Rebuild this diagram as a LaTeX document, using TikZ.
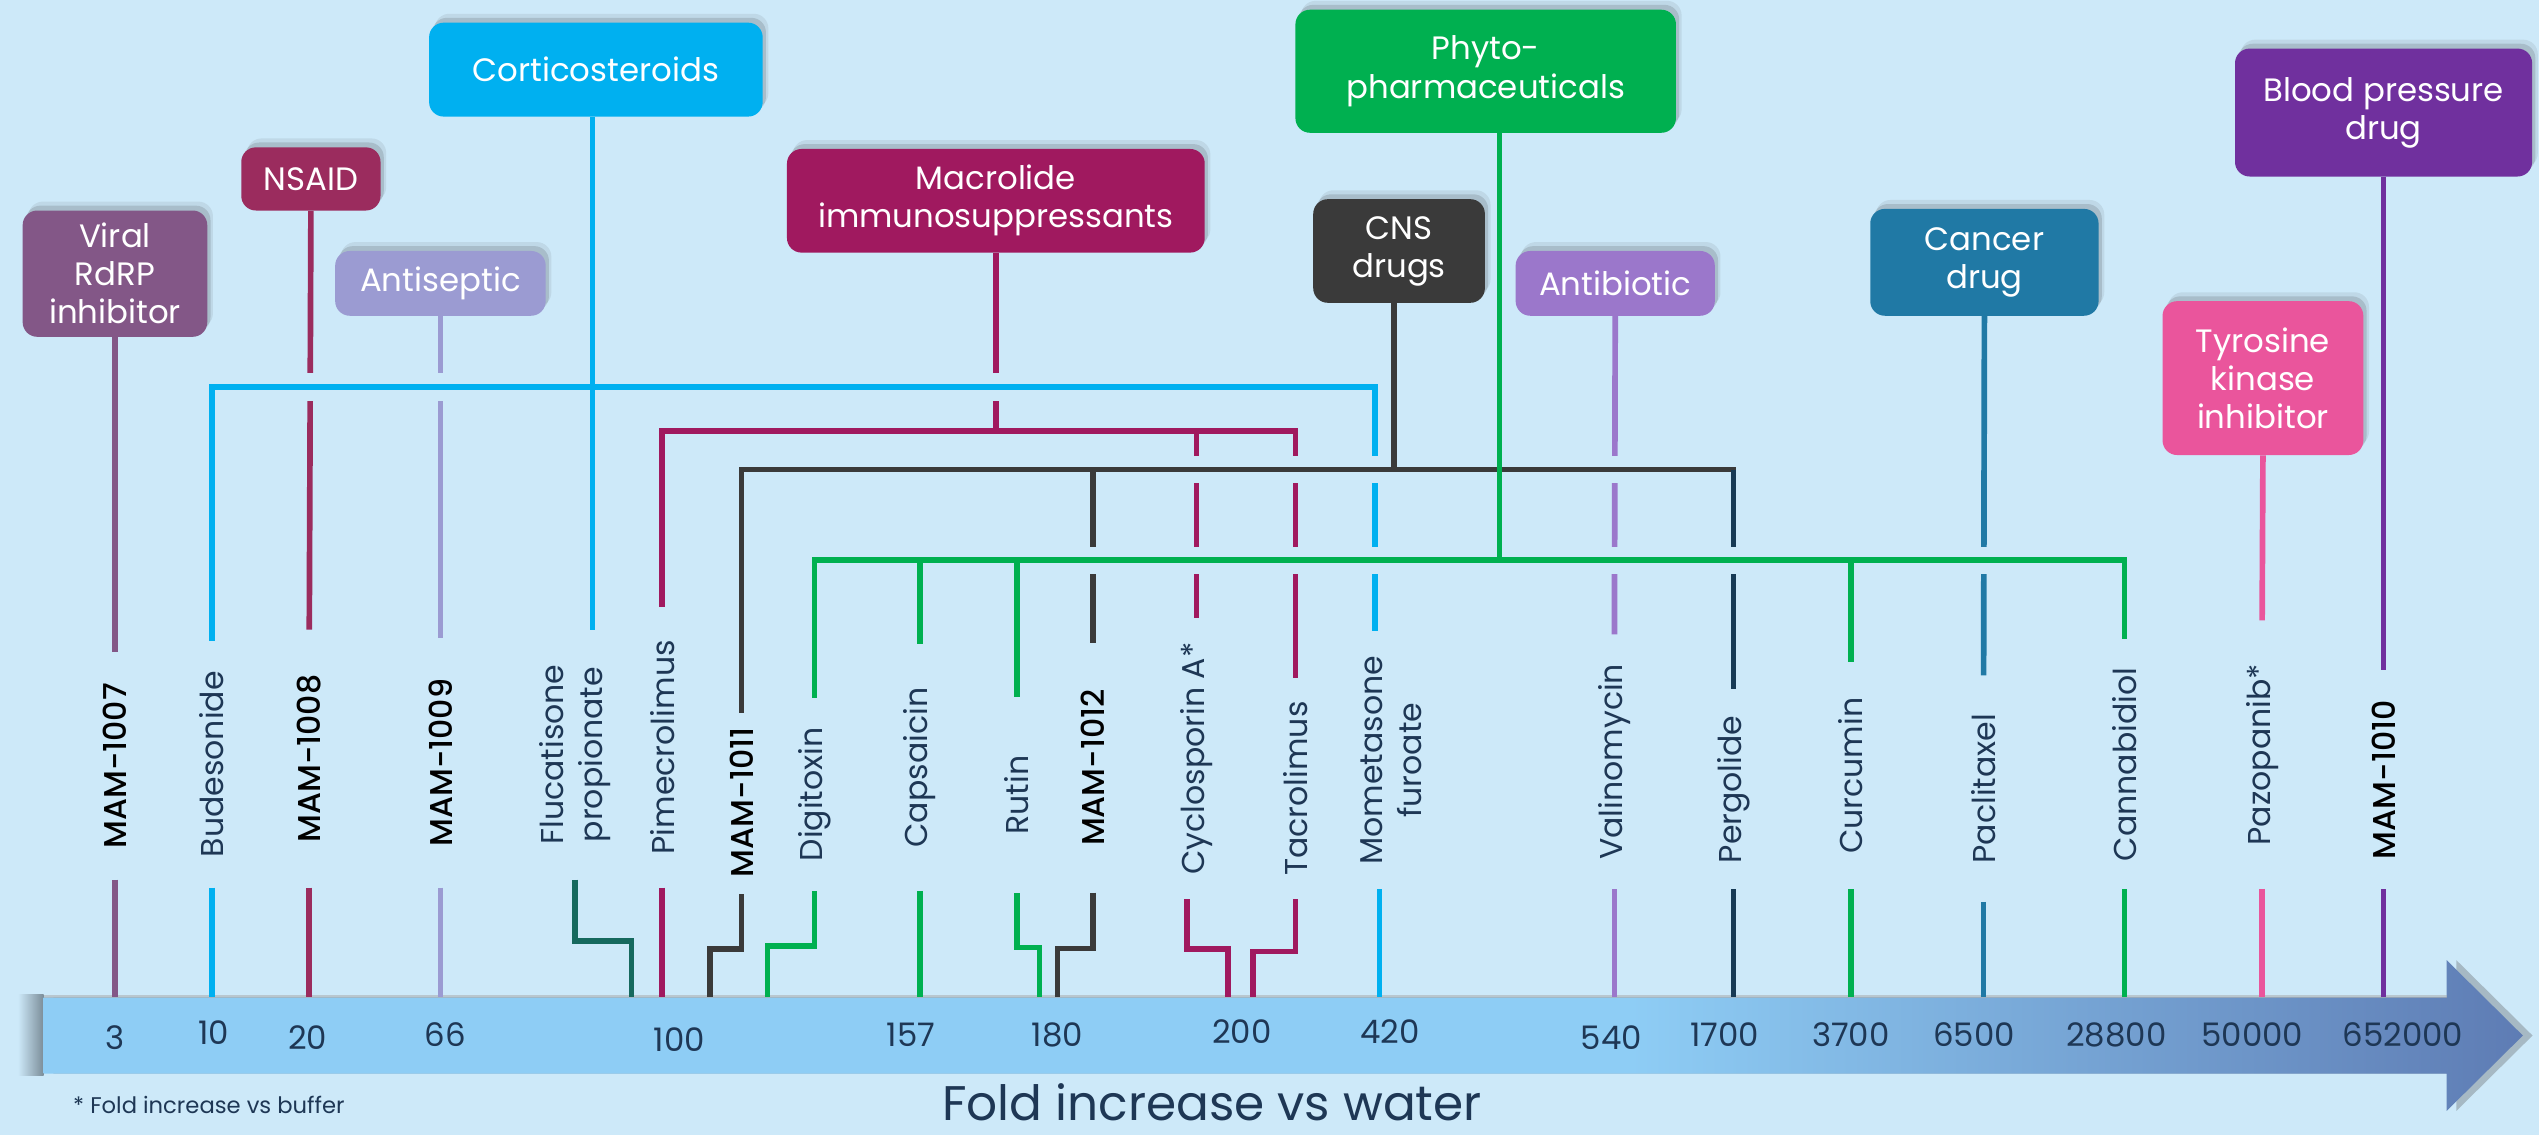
\documentclass[tikz,border=0pt]{standalone}
\usepackage{fontspec}
\setmainfont{Poppins}
\IfFontExistsTF{Poppins Medium}{\newfontfamily\mamfont{Poppins Medium}}{\newfontfamily\mamfont{Poppins}[FakeBold=0.5]}
\usetikzlibrary{shadows}

\definecolor{bgc}{RGB}{205,233,249}
\definecolor{barl}{RGB}{142,205,245}
\definecolor{barr}{RGB}{94,124,180}
\definecolor{barsh}{RGB}{122,140,152}
\definecolor{navy}{RGB}{30,55,85}
\definecolor{viralc}{RGB}{131,87,135}
\definecolor{nsaidc}{RGB}{155,44,94}
\definecolor{antisc}{RGB}{155,155,210}
\definecolor{cortc}{RGB}{0,176,240}
\definecolor{macroc}{RGB}{160,25,95}
\definecolor{phytoc}{RGB}{0,176,80}
\definecolor{cnsc}{RGB}{58,58,58}
\definecolor{abioc}{RGB}{155,119,203}
\definecolor{cancc}{RGB}{32,121,165}
\definecolor{tyroc}{RGB}{234,85,156}
\definecolor{bpc}{RGB}{112,48,158}
\definecolor{pergc}{RGB}{23,58,85}
\definecolor{fluc}{RGB}{22,105,94}

\newcommand\bxsize{\fontsize{20}{23.5}\selectfont}
\newcommand\lbsize{\fontsize{19.5}{24}\selectfont}
\newcommand\numsize{\fontsize{20}{24}\selectfont}

\pgfdeclarehorizontalshading{barshade}{100bp}{color(0bp)=(barl); color(57bp)=(barl); color(75bp)=(barr); color(100bp)=(barr)}

\tikzset{
  box/.style={rounded corners=9pt, text=white, align=center, font=\bxsize, inner sep=2pt,
    drop shadow={shadow xshift=2pt, shadow yshift=3pt, opacity=.16, fill=black!80},
    drop shadow={shadow xshift=3.5pt, shadow yshift=5.5pt, opacity=.09, fill=black!80}},
  lab/.style={rotate=90, inner sep=1pt, text=navy, font=\lbsize, align=center},
  mam/.style={lab, text=black, font=\lbsize\mamfont},
  num/.style={text=navy, font=\numsize, inner sep=0pt},
  ln/.style={line width=3.5pt},
  halo/.style={preaction={draw=bgc, line width=17pt}}
}

\begin{document}
\begin{tikzpicture}[x=1pt, y=-1pt]
  \fill[bgc] (0,0) rectangle (1568,701);
  \useasboundingbox (0,0) rectangle (1568,701);

  % axis
  \shade[left color=bgc, right color=barsh] (11,614) rectangle (27,664);
  \path[shading=barshade, drop shadow={shadow xshift=6pt, shadow yshift=0pt, opacity=.3, fill=black!70}]
    (27,616) -- (1511,616) -- (1511,593) -- (1558,639.5) -- (1511,686) -- (1511,663) -- (27,663) -- cycle;
  \draw[black!35, opacity=.5, line width=1.5pt] (27,615.5) -- (1511,615.5);
  \coordinate (axis) at (0,616);
  \foreach \n/\x in {tflu/390, t1011/438.5, tdigi/474, trut/642, t1012/653, tcyc/758.5, ttac/774, tmome/852}
    \coordinate (\n) at (\x,616);
  \foreach \v/\x/\y in {3/71/640.5, 10/132/637.5, 20/190/640.5, 66/275/639, 100/419.5/642, 157/562.5/639,
      180/653/639, 200/767/637, 420/858.5/637, 540/995/640.5, 1700/1065/639, 3700/1143/639,
      6500/1219/639, 28800/1307/639, 50000/1391/639, 652000/1484/639}
    \node[num] (n\v) at (\x,\y) {\v};
  \node[text=navy, font=\fontsize{30}{34}\selectfont, anchor=base, inner sep=0pt] (title) at (748.5,692) {Fold increase vs water};
  \node[text=navy, font=\fontsize{14}{16}\selectfont, anchor=base west, inner sep=0pt] (note) at (45,687.5) {* Fold increase vs buffer};

  % classes
  \node[box, fill=viralc, minimum width=114pt, minimum height=78pt] (viral) at (71,169) {Viral\\RdRP\\inhibitor};
  \node[box, fill=nsaidc, minimum width=86pt, minimum height=39pt] (nsaid) at (192,110.5) {NSAID};
  \node[box, fill=antisc, minimum width=130pt, minimum height=40pt] (antisep) at (272,175) {Antiseptic};
  \node[box, fill=cortc, minimum width=206pt, minimum height=58pt] (cort) at (368,43) {Corticosteroids};
  \node[box, fill=macroc, minimum width=258pt, minimum height=64pt] (macro) at (615,124) {Macrolide\\immunosuppressants};
  \node[box, fill=cnsc, minimum width=106pt, minimum height=64pt] (cns) at (864,155) {CNS\\drugs};
  \node[box, fill=phytoc, minimum width=235pt, minimum height=76pt] (phyto) at (917.5,44) {Phyto-\\pharmaceuticals};
  \node[box, fill=abioc, minimum width=123pt, minimum height=40pt] (abio) at (997.5,175) {Antibiotic};
  \node[box, fill=cancc, minimum width=141pt, minimum height=66pt] (cancer) at (1225.5,162) {Cancer\\drug};
  \node[box, fill=tyroc, minimum width=124pt, minimum height=95pt] (tyro) at (1397.5,233.5) {Tyrosine\\kinase\\inhibitor};
  \node[box, fill=bpc, minimum width=183.5pt, minimum height=79pt] (bp) at (1472,69.5) {Blood pressure\\drug};

  % compounds
  \node[mam, minimum width=140pt] (l1007) at (71,473) {MAM-1007};
  \node[lab, minimum width=152pt] (lbud) at (131,472) {Budesonide};
  \node[mam, minimum width=159pt] (l1008) at (191,468.5) {MAM-1008};
  \node[mam, minimum width=154pt] (l1009) at (272,471) {MAM-1009};
  \node[lab, minimum width=154pt] (lflu) at (355,466) {Flucatisone\\propionate};
  \node[lab, minimum width=173pt] (lpime) at (409,461.5) {Pimecrolimus};
  \node[mam, minimum width=113pt] (l1011) at (458,495.5) {MAM-1011};
  \node[lab, minimum width=119pt] (ldigi) at (503,490.5) {Digitoxin};
  \node[lab, minimum width=152pt] (lcaps) at (568,474) {Capsaicin};
  \node[lab, minimum width=121pt] (lrutin) at (628,491) {Rutin};
  \node[mam, minimum width=154pt] (l1012) at (675,474) {MAM-1012};
  \node[lab, minimum width=173pt] (lcyclo) at (739,468.5) {Cyclosporin A*};
  \node[lab, minimum width=136pt] (ltacro) at (800,487) {Tacrolimus};
  \node[lab, minimum width=159pt] (lmome) at (859,469.5) {Mometasone\\furoate};
  \node[lab, minimum width=157pt] (lvali) at (997,470.5) {Valinomycin};
  \node[lab, minimum width=123pt] (lperg) at (1070.5,487.5) {Pergolide};
  \node[lab, minimum width=140pt] (lcurc) at (1143,479) {Curcumin};
  \node[lab, minimum width=139.5pt] (lpacl) at (1225,487) {Paclitaxel};
  \node[lab, minimum width=154pt] (lcann) at (1312,472) {Cannabidiol};
  \node[lab, minimum width=165.5pt] (lpazo) at (1397,466) {Pazopanib*};
  \node[mam, minimum width=135pt] (l1010) at (1472,481.5) {MAM-1010};

  \coordinate (cj) at (366,239);
  \coordinate (mj) at (615,266);
  \coordinate (cnsj) at (861,290);
  \coordinate (gj) at (926,346);

  % single links
  \draw[ln, viralc] (viral.south) -- (l1007.east);
  \draw[ln, nsaidc] (nsaid.south) -- (l1008.east);
  \draw[ln, antisc] (antisep.south) -- (l1009.east);
  \draw[ln, abioc] (abio.south) -- (lvali.east);
  \draw[ln, cancc] (cancer.south) -- (lpacl.east);
  \draw[ln, tyroc] (tyro.south) -- (lpazo.east);
  \draw[ln, bpc] (bp.south) -- (l1010.east);

  % brackets
  \draw[ln, macroc] (macro.south) -- (mj);
  \draw[ln, macroc] (lpime.east) |- (mj) -| (ltacro.east);
  \draw[ln, macroc] (mj -| lcyclo) -- (lcyclo.east);

  \draw[ln, cortc, halo] (lbud.east) |- (cj) -| ([xshift=-10pt]lmome.east);
  \draw[ln, cortc] (cort.south -| cj) -- ([xshift=11pt]lflu.east);

  \draw[ln, cnsc, halo, line cap=rect] (l1011.east) |- (cnsj) -- (cnsj -| lperg);
  \draw[ln, cnsc] (cns.south -| cnsj) -- (cnsj);
  \draw[ln, cnsc] (cnsj -| l1012) -- (l1012.east);
  \draw[ln, pergc] (cnsj -| lperg) -- (lperg.east);

  \draw[ln, phytoc, halo] (ldigi.east) |- (gj) -| (lcann.east);
  \foreach \l in {lcaps, lrutin, lcurc}
    \draw[ln, phytoc] (gj -| \l) -- (\l.east);
  \draw[ln, phytoc] (phyto.south -| gj) -- (gj);

  % to the axis
  \foreach \l/\c in {l1007/viralc, lbud/cortc, l1008/nsaidc, l1009/antisc, lpime/macroc, lcaps/phytoc,
      lvali/abioc, lperg/pergc, lcurc/phytoc, lpacl/cancc, lcann/phytoc, lpazo/tyroc, l1010/bpc}
    \draw[ln, \c] (\l.west) -- (\l.west |- axis);
  \draw[ln, cortc] ([xshift=-7pt]lmome.west) -- (tmome);
  \draw[ln, fluc] (lflu.west) -- ++(0,38) -| (tflu);
  \draw[ln, cnsc] (l1011.west) -- ++(0,34) -| (t1011);
  \draw[ln, phytoc] (ldigi.west) -- ++(0,34) -| (tdigi);
  \draw[ln, phytoc] (lrutin.west) -- ++(0,33.5) -| (trut);
  \draw[ln, cnsc] (l1012.west) -- ++(0,34.5) -| (t1012);
  \draw[ln, macroc] ([xshift=-6pt]lcyclo.west) -- ++(0,31) -| (tcyc);
  \draw[ln, macroc] (ltacro.west) -- ++(0,32.5) -| (ttac);
\end{tikzpicture}
\end{document}
